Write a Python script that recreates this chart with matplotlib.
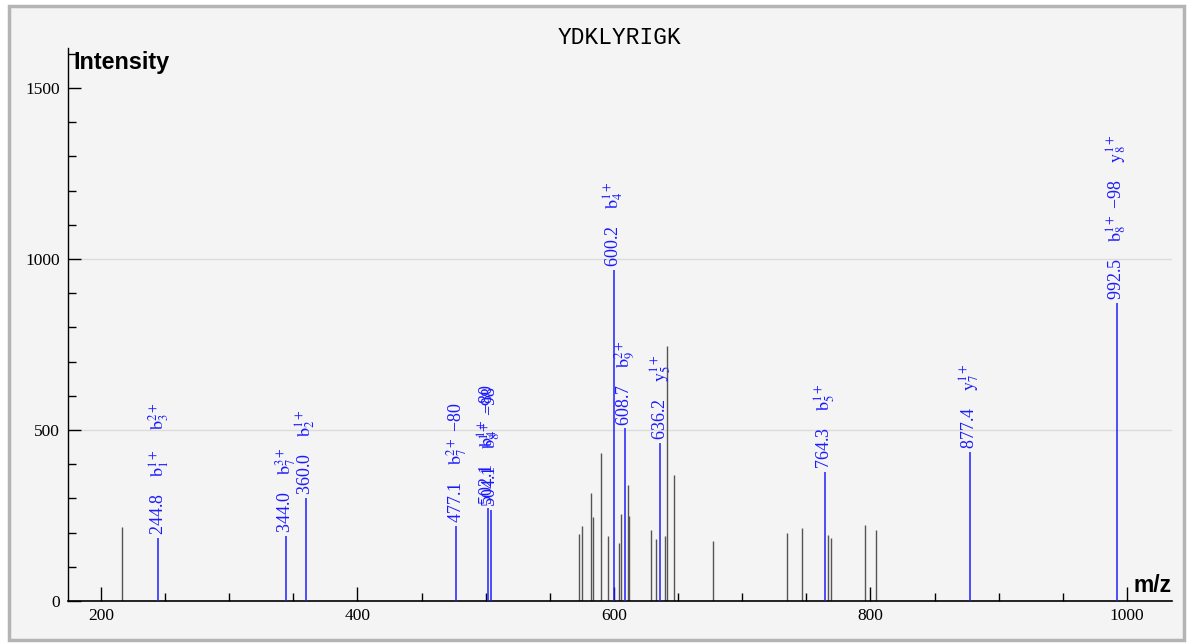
import numpy as np
import matplotlib
matplotlib.use('agg')
import matplotlib.pyplot as plt
from matplotlib.patches import Rectangle
from matplotlib.ticker import MultipleLocator

plt.rcParams['mathtext.fontset'] = 'stix'
plt.rcParams['font.family'] = ['Liberation Serif', 'DejaVu Serif']

title = 'YDKLYRIGK'

# unannotated peaks
gray_mz = [216.4, 572.9, 575.0, 581.8, 583.6, 589.9, 595.6, 603.9, 605.2,
           611.2, 612.0, 628.6, 633.0, 640.0, 641.1, 647.0, 676.9, 734.6,
           746.8, 766.8, 768.9, 796.0, 804.0]
gray_int = [216, 195, 219, 315, 245, 434, 190, 169, 254,
            339, 249, 208, 180, 190, 747, 367, 175, 200,
            212, 193, 183, 222, 207]

# annotated fragment ions
ion_mz = [244.8, 344.0, 360.0, 477.1, 502.1, 504.1, 600.2, 608.7, 636.2,
          764.3, 877.4, 992.5]
ion_int = [184, 190, 301, 219, 272, 266, 968, 505, 462, 378, 436, 871]
ion_names = [
    [r'$\mathrm{b}_1^{1+}$', r'$\mathrm{b}_3^{2+}$'],
    [r'$\mathrm{b}_7^{3+}$'],
    [r'$\mathrm{b}_2^{1+}$'],
    [r'$\mathrm{b}_7^{2+}$ −80'],
    [r'$\mathrm{b}_4^{1+}$ −80'],
    [r'$\mathrm{b}_8^{1+}$ −98'],
    [r'$\mathrm{b}_4^{1+}$'],
    [r'$\mathrm{b}_9^{2+}$'],
    [r'$\mathrm{y}_5^{1+}$'],
    [r'$\mathrm{b}_5^{1+}$'],
    [r'$\mathrm{y}_7^{1+}$'],
    [r'$\mathrm{b}_8^{1+}$ −98', r'$\mathrm{y}_8^{1+}$'],
]

grid_levels = [500, 1000]

fig = plt.figure(figsize=(11.88, 6.43), dpi=100, facecolor='white')
fig.patches.append(Rectangle((8.5 / 1188, 3.5 / 643), 1175 / 1188, 634 / 643,
                             transform=fig.transFigure, facecolor='#f4f4f4',
                             edgecolor='#b4b4b4', linewidth=2.5, zorder=-10))

ax = fig.add_axes([68 / 1188, 1 - 601 / 643, (1172 - 68) / 1188, (601 - 48) / 643])
ax.set_facecolor('none')
ax.set_xlim(174.3, 1035.1)
ax.set_ylim(0, 1617)

ax.hlines(grid_levels, 174.3, 1035.1, color='#dcdcdc', linewidth=1, zorder=0)

ax.vlines(gray_mz, 0, gray_int, color='#555555', linewidth=1, zorder=2)
ax.vlines(ion_mz, 0, ion_int, color='#2020ff', linewidth=1.1, zorder=3)

for mz, h, names in zip(ion_mz, ion_int, ion_names):
    txt = ('%.1f' % mz) + ''.join('    ' + n for n in names)
    ax.annotate(txt, (mz, h), xytext=(0, 2), textcoords='offset points',
                rotation=90, ha='center', va='bottom', color='#1a1aff',
                fontsize=13)

for s in ['top', 'right']:
    ax.spines[s].set_visible(False)
ax.spines['left'].set_linewidth(1)
ax.spines['bottom'].set_linewidth(1.2)

ax.xaxis.set_major_locator(MultipleLocator(200))
ax.xaxis.set_minor_locator(MultipleLocator(50))
ax.yaxis.set_major_locator(MultipleLocator(500))
ax.yaxis.set_minor_locator(MultipleLocator(100))
ax.tick_params(axis='x', which='major', direction='in', length=10, width=1, pad=5, labelsize=12.5)
ax.tick_params(axis='x', which='minor', direction='in', length=6, width=1)
ax.tick_params(axis='y', which='major', direction='in', length=9, width=1, pad=6, labelsize=12.5)
ax.tick_params(axis='y', which='minor', direction='in', length=6, width=1)

fig.text(620 / 1188, 1 - 37 / 643, title, family='Liberation Mono', fontsize=16.5,
         ha='center', va='center')
fig.text(73 / 1188, 1 - 62 / 643, 'Intensity', family='Liberation Sans',
         fontweight='bold', fontsize=16.8, ha='left', va='center')
fig.text(1172 / 1188, 1 - 597 / 643, 'm/z', family='Liberation Sans',
         fontweight='bold', fontsize=16.5, ha='right', va='bottom')

fig.savefig('out.png', dpi=100, facecolor='white')
